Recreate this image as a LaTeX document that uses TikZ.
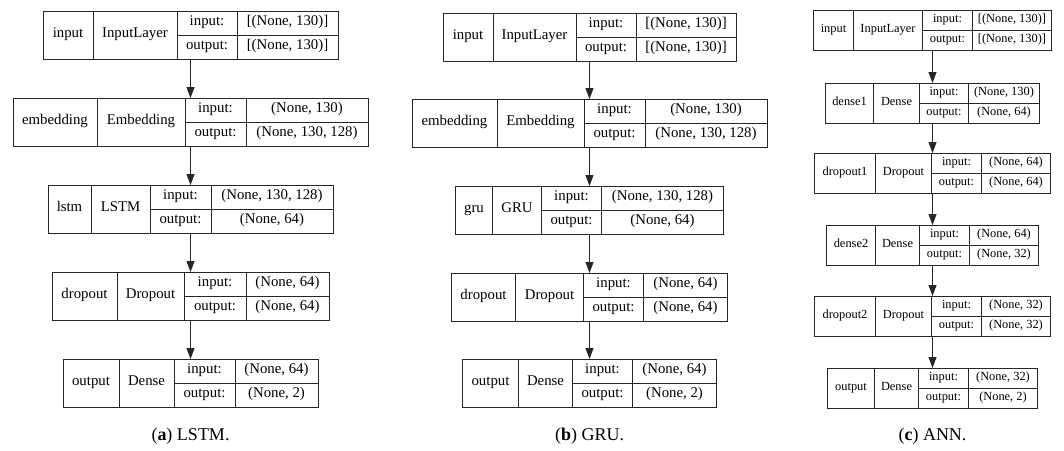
\documentclass[tikz,border=0pt]{standalone}
\usepackage{fontspec}
\setmainfont{Liberation Serif}
\usepackage{tikz}
\usetikzlibrary{arrows.meta}

\tikzset{
  layer/.style={draw=black!85, line width=1pt, rectangle, inner sep=0pt, outer sep=0pt, anchor=north},
  grid/.style={draw=black!85, line width=1pt},
  cell/.style={inner sep=0pt, text height=0.7em, text depth=0.2em},
  flow/.style={draw=black!85, line width=1pt, -{Triangle[width=8pt,length=11pt]}},
  caption/.style={font=\fontsize{18}{20}\selectfont, inner sep=0pt}
}

\begin{document}
\begin{tikzpicture}[x=1pt, y=-1pt]
    \useasboundingbox (0,0) rectangle (1064,450);

    % 1. Kotak layer: id/x tengah/y atas/tinggi/ukuran font/lebar kolom/teks
    \foreach \lid/\lx/\ly/\lh/\lfs/\wpa/\wpb/\wpc/\wpd/\lname/\lclass/\lin/\lout in {
      a1/190.5/11/48/14.8/50/84/60/101/input/InputLayer/{[(None, 130)]}/{[(None, 130)]},
      a2/190.5/98/48/14.8/84/88/61/122/embedding/Embedding/{(None, 130)}/{(None, 130, 128)},
      a3/190.5/185/48/14.8/43/59/61/122/lstm/LSTM/{(None, 130, 128)}/{(None, 64)},
      a4/190.5/272/48/14.8/65/67/62/83/dropout/Dropout/{(None, 64)}/{(None, 64)},
      a5/190.5/359/48/14.8/56/55/61/83/output/Dense/{(None, 64)}/{(None, 2)},
      b1/589.5/13/48/14.8/50/83/60/100/input/InputLayer/{[(None, 130)]}/{[(None, 130)]},
      b2/589.5/99/48/14.8/85/87/61/122/embedding/Embedding/{(None, 130)}/{(None, 130, 128)},
      b3/589.5/186/48/14.8/37/49/60/122/gru/GRU/{(None, 130, 128)}/{(None, 64)},
      b4/589.5/273/48/14.8/64/68/60/84/dropout/Dropout/{(None, 64)}/{(None, 64)},
      b5/589.5/359/48/14.8/56/54/60/84/output/Dense/{(None, 64)}/{(None, 2)},
      c1/932.5/10/40/12.4/40/69/50/79/input/InputLayer/{[(None, 130)]}/{[(None, 130)]},
      c2/932.5/83/40/12.4/48/46/49/71/dense1/Dense/{(None, 130)}/{(None, 64)},
      c3/932.5/153/40/12.4/61/56/50/69/dropout1/Dropout/{(None, 64)}/{(None, 64)},
      c4/932.5/225/40/12.4/49/44/50/69/dense2/Dense/{(None, 64)}/{(None, 32)},
      c5/932.5/296/40/12.4/61/56/50/69/dropout2/Dropout/{(None, 32)}/{(None, 32)},
      c6/932.5/368/40/12.4/47/44/50/69/output/Dense/{(None, 32)}/{(None, 2)}
    }{
      \pgfmathsetmacro{\lw}{\wpa+\wpb+\wpc+\wpd}
      \pgfmathsetmacro{\xl}{\lx-\lw/2}
      \pgfmathsetmacro{\xa}{\xl+\wpa}
      \pgfmathsetmacro{\xb}{\xa+\wpb}
      \pgfmathsetmacro{\xc}{\xb+\wpc}
      \pgfmathsetmacro{\xr}{\xl+\lw}
      \pgfmathsetmacro{\yb}{\ly+\lh}
      \pgfmathsetmacro{\ym}{\ly+\lh/2}
      \pgfmathsetmacro{\yi}{\ly+\lh/4}
      \pgfmathsetmacro{\yo}{\ly+3*\lh/4}
      \begin{scope}[font=\fontsize{\lfs}{\lfs}\selectfont]
        \node[layer, minimum width=\lw, minimum height=\lh] (\lid) at (\lx,\ly) {};
        \draw[grid] (\xa,\ly) -- (\xa,\yb) (\xb,\ly) -- (\xb,\yb)
                    (\xc,\ly) -- (\xc,\yb) (\xb,\ym) -- (\xr,\ym);
        \node[cell] (\lid-n)  at ({(\xl+\xa)/2},\ym) {\lname};
        \node[cell] (\lid-c)  at ({(\xa+\xb)/2},\ym) {\lclass};
        \node[cell] (\lid-i)  at ({(\xb+\xc)/2},\yi) {input:};
        \node[cell] (\lid-o)  at ({(\xb+\xc)/2},\yo) {output:};
        \node[cell] (\lid-vi) at ({(\xc+\xr)/2},\yi) {\lin};
        \node[cell] (\lid-vo) at ({(\xc+\xr)/2},\yo) {\lout};
      \end{scope}
    }

    % 2. Panah antar layer
    \foreach \src/\dst in {a1/a2, a2/a3, a3/a4, a4/a5,
                           b1/b2, b2/b3, b3/b4, b4/b5,
                           c1/c2, c2/c3, c3/c4, c4/c5, c5/c6}
      \draw[flow] (\src) -- (\dst);

    % 3. Keterangan
    \node[caption] (capa) at (190.5,436) {(\textbf{a}) LSTM.};
    \node[caption] (capb) at (589.5,436) {(\textbf{b}) GRU.};
    \node[caption] (capc) at (932.5,436) {(\textbf{c}) ANN.};
\end{tikzpicture}
\end{document}
